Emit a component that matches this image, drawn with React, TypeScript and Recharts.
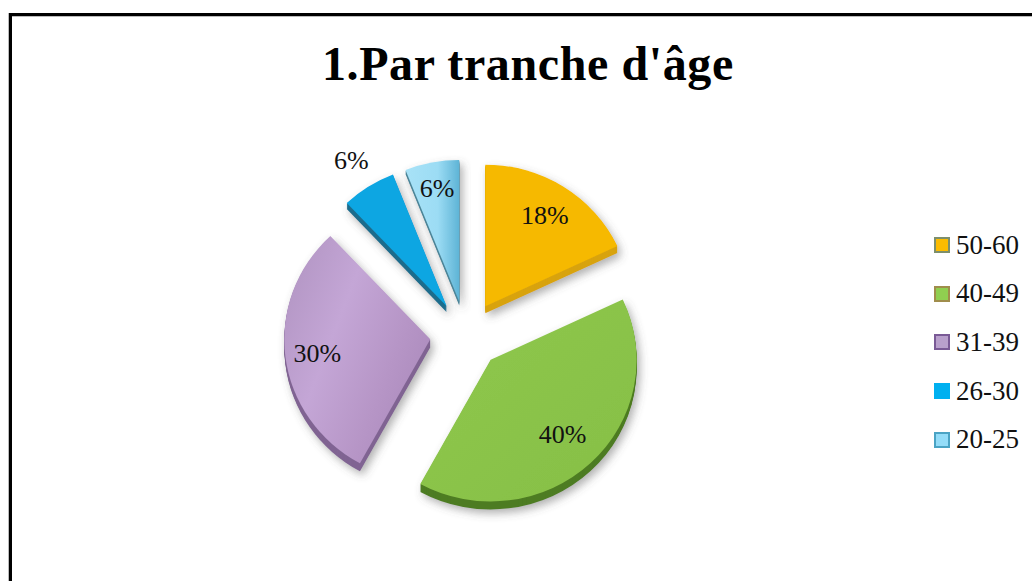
import React from 'react';
import { PieChart, Pie, Sector, Legend } from 'recharts';

const AGE_GROUPS = ['50-60', '40-49', '31-39', '26-30', '20-25'];
const SHARES = [18, 40, 30, 6, 6];
const SLICE_FILLS = ['#f6b900', 'url(#greenFill)', 'url(#purpleFill)', '#0fa6e2', 'url(#skyFill)'];
const SIDE_COLORS = ['#d8a30f', '#4e7c22', '#806593', '#1b6c8c', '#4d8598'];
const SIDE_DEPTHS = [7, 8, 8, 6, 4];
const LABEL_RADII = [0.76, 0.72, 0.78, 1.22, 0.81];
const SWATCH_COLORS = ['#fcbc00', '#90cf50', '#b9a0cc', '#00b0f0', '#93dcf8'];
const SWATCH_BORDERS = ['#7d8f6c', '#a08d4c', '#7a5a96', '#00b0f0', '#4aa3c4'];

const CHART_W = 1032;
const CHART_H = 581;
const EXPLODE_X = 36;
const EXPLODE_Y = 34;
const SQUASH = 0.97;
const FONT = '"Liberation Serif", serif';

const tableData = AGE_GROUPS.map((name, i) => ({
  name,
  value: SHARES[i],
  fill: SLICE_FILLS[i],
  side: SIDE_COLORS[i],
  depth: SIDE_DEPTHS[i],
  labelRadius: LABEL_RADII[i],
}));

const rad = (deg: number) => (deg * Math.PI) / 180;

// exploded, slightly flattened slice with a darker extruded side
function SliceShape(props: any) {
  const { cx, cy, outerRadius, startAngle, endAngle, fill, side, depth } = props;
  const mid = rad((startAngle + endAngle) / 2);
  const dx = Math.cos(mid) * EXPLODE_X;
  const dy = -Math.sin(mid) * EXPLODE_Y;
  const base = { cx, cy, innerRadius: 0, outerRadius, startAngle, endAngle };
  const flat = `translate(${dx} ${cy + dy}) scale(1 ${SQUASH}) translate(0 ${-cy})`;
  const layers = [];
  for (let d = depth; d > 0; d -= 1) layers.push(d);
  return (
    <g filter="url(#softShadow)">
      {layers.map((d) => (
        <g key={d} transform={`translate(0 ${d})`}>
          <g transform={flat}>
            <Sector {...base} fill={side} stroke="none" />
          </g>
        </g>
      ))}
      <g transform={flat}>
        <Sector {...base} fill={fill} stroke="none" />
      </g>
    </g>
  );
}

function SliceLabel(props: any) {
  const { cx, cy, midAngle, outerRadius, value, labelRadius } = props;
  const a = rad(midAngle);
  const r = outerRadius * labelRadius;
  const x = cx + Math.cos(a) * (EXPLODE_X + r);
  const y = cy - Math.sin(a) * (EXPLODE_Y + r * SQUASH);
  return (
    <text x={x} y={y} textAnchor="middle" dominantBaseline="central" fontFamily={FONT} fontSize={26} fill="#111">
      {value}%
    </text>
  );
}

function AgeLegend() {
  return (
    <div style={{ fontFamily: FONT, fontSize: 27, color: '#111' }}>
      {AGE_GROUPS.map((name, i) => (
        <div key={name} style={{ display: 'flex', alignItems: 'center', height: 48.6 }}>
          <span
            style={{
              width: 12,
              height: 12,
              marginRight: 6,
              background: SWATCH_COLORS[i],
              border: `2px solid ${SWATCH_BORDERS[i]}`,
            }}
          />
          {name}
        </div>
      ))}
    </div>
  );
}

export default function App() {
  return (
    <div style={{ position: 'absolute', left: 0, top: 0, width: CHART_W, height: CHART_H, overflow: 'hidden', background: '#fff' }}>
      <div style={{ position: 'absolute', left: 8, top: 13, width: 1, bottom: 0, background: '#bbb' }} />
      <div style={{ position: 'absolute', left: 9, top: 16, right: 0, height: 1, background: '#bbb' }} />
      <div style={{ position: 'absolute', left: 9, top: 13, right: -10, bottom: -10, borderLeft: '3px solid #000', borderTop: '3px solid #000' }} />
      <div
        style={{
          position: 'absolute',
          left: 322,
          top: 33,
          fontFamily: FONT,
          fontWeight: 700,
          fontSize: 48,
          letterSpacing: 0.6,
          lineHeight: '62px',
          color: '#000',
          whiteSpace: 'nowrap',
        }}
      >
        1.Par tranche d'âge
      </div>
      <PieChart width={CHART_W} height={CHART_H} style={{ position: 'absolute', left: 0, top: 0 }}>
        <defs>
          <filter id="softShadow" x="-20%" y="-20%" width="140%" height="140%">
            <feDropShadow dx="3" dy="4" stdDeviation="4" floodColor="#555" floodOpacity="0.45" />
          </filter>
          <linearGradient id="greenFill" x1="0" y1="0" x2="1" y2="1">
            <stop offset="0" stopColor="#8fc84e" />
            <stop offset="1" stopColor="#86bf45" />
          </linearGradient>
          <linearGradient id="purpleFill" x1="0" y1="0.2" x2="1" y2="0.8">
            <stop offset="0" stopColor="#b396c4" />
            <stop offset="0.35" stopColor="#c4a6d6" />
            <stop offset="0.7" stopColor="#b695c6" />
            <stop offset="1" stopColor="#a988ba" />
          </linearGradient>
          <linearGradient id="skyFill" x1="0" y1="0" x2="1" y2="0">
            <stop offset="0" stopColor="#a8e2f7" />
            <stop offset="0.6" stopColor="#9cdcf4" />
            <stop offset="1" stopColor="#5eb4d6" />
          </linearGradient>
        </defs>
        <Pie
          data={tableData}
          dataKey="value"
          nameKey="name"
          cx={461}
          cy={330}
          outerRadius={146}
          startAngle={90}
          endAngle={-270}
          stroke="none"
          shape={SliceShape}
          label={SliceLabel}
          labelLine={false}
          isAnimationActive={false}
        />
        <Legend
          layout="vertical"
          align="right"
          verticalAlign="top"
          content={AgeLegend}
          wrapperStyle={{ left: 934, top: 221, width: 98, right: 'auto' }}
        />
      </PieChart>
    </div>
  );
}
